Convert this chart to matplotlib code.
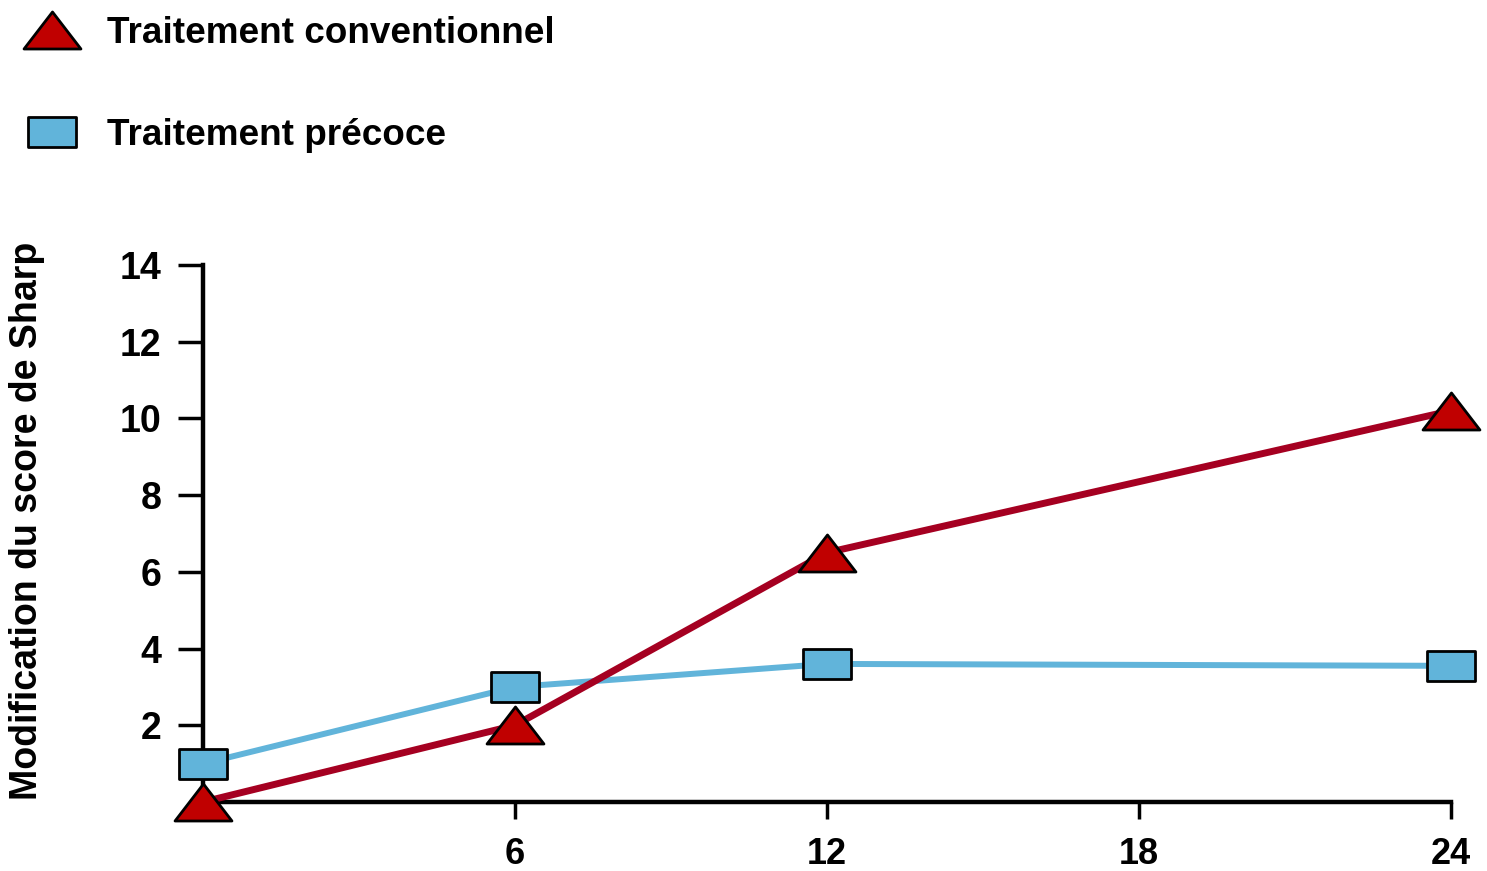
import matplotlib.pyplot as plt
from matplotlib.lines import Line2D
from matplotlib.path import Path

# data
months = [0, 6, 12, 24]
conventionnel = [0.0, 2.0, 6.5, 10.2]
precoce = [1.0, 3.0, 3.6, 3.55]
labels = ['Traitement conventionnel', 'Traitement précoce']
xticks = [6, 12, 18, 24]
yticks = [2, 4, 6, 8, 10, 12, 14]

red_line = '#A50021'
red_fill = '#C00000'
blue = '#61B4DA'

plt.rcParams['font.family'] = ['Liberation Sans', 'DejaVu Sans']
plt.rcParams['font.weight'] = 'bold'

# flattened markers, wider than tall
tri = Path([(0, 0.65), (-1, -0.65), (1, -0.65), (0, 0.65)], closed=True)
rect = Path([(-1, -0.62), (1, -0.62), (1, 0.62), (-1, 0.62), (-1, -0.62)], closed=True)

fig = plt.figure(figsize=(14.87, 8.71), dpi=100)
ax = fig.add_axes([0.1365, 0.0792, 0.8393, 0.6166])

ax.plot(months, precoce, color=blue, lw=4.3, marker=rect, ms=34.5,
        mfc=blue, mec='black', mew=2, clip_on=False, zorder=3)
ax.plot(months, conventionnel, color=red_line, lw=5, marker=tri, ms=41,
        mfc=red_fill, mec='black', mew=2, clip_on=False, zorder=4)

ax.set_xlim(0, 24)
ax.set_ylim(0, 14)
ax.set_xticks(xticks)
ax.set_yticks(yticks)
ax.tick_params(axis='y', length=18, width=2.5, labelsize=27, pad=12)
ax.tick_params(axis='x', length=12, width=2.5, labelsize=26, pad=13)
for lab in ax.get_xticklabels() + ax.get_yticklabels():
    lab.set_fontweight('bold')

for side in ['top', 'right']:
    ax.spines[side].set_visible(False)
for side in ['left', 'bottom']:
    ax.spines[side].set_linewidth(3.2)

ax.set_ylabel('Modification du score de Sharp', fontsize=27, fontweight='bold')
ax.yaxis.set_label_coords(-0.1266, 0.523)

handles = [
    Line2D([], [], ls='none', marker=tri, ms=41, mfc=red_fill, mec='black', mew=2),
    Line2D([], [], ls='none', marker=rect, ms=34.5, mfc=blue, mec='black', mew=2),
]
fig.legend(handles, labels, loc='upper left', bbox_to_anchor=(0.0, 0.99),
           frameon=False, labelspacing=1.8, handlelength=2.4,
           handletextpad=0.3, borderaxespad=0.1, borderpad=0.1,
           prop={'weight': 'bold', 'size': 26.6})

fig.savefig('out.png', dpi=100)
